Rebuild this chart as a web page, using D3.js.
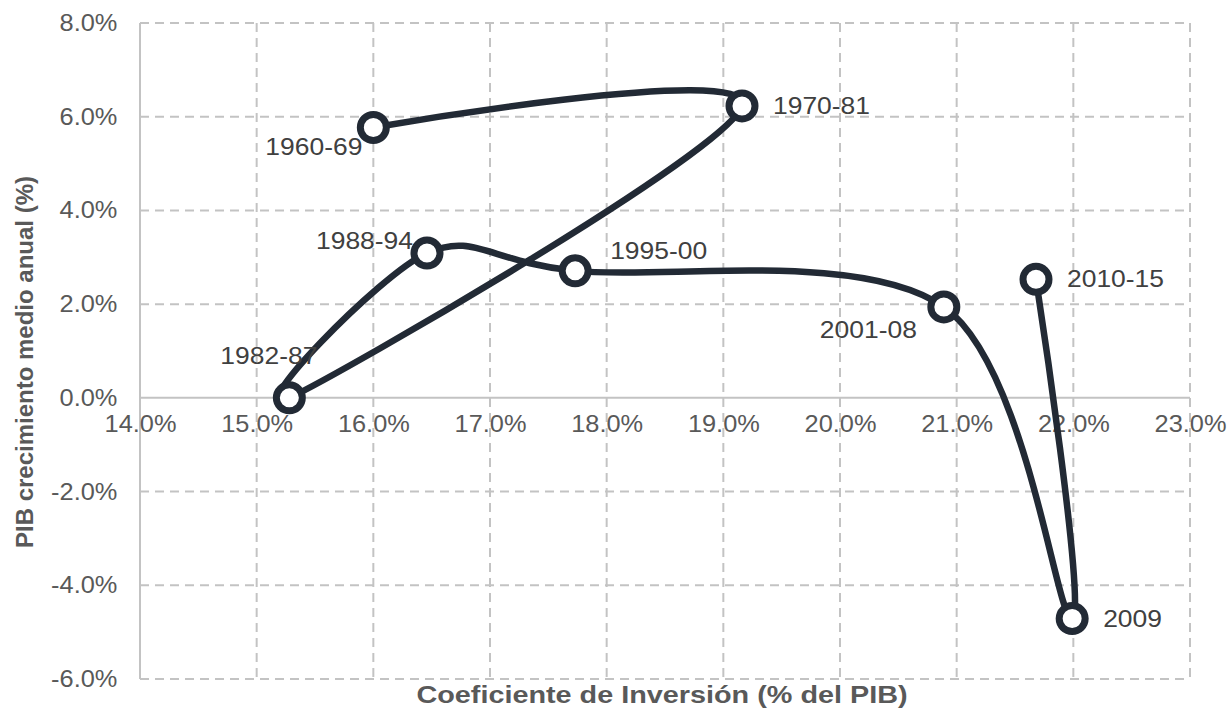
<!DOCTYPE html>
<html>
<head>
<meta charset="utf-8">
<script src="https://cdn.jsdelivr.net/npm/d3@7"></script>
<style>
  body { margin: 0; background: #fff; }
  svg { display: block; font-family: "Liberation Sans", Arial, sans-serif; }
</style>
</head>
<body>
<div id="chart"></div>
<script>
// periods and their values
var periods = ["1960-69", "1970-81", "1982-87", "1988-94", "1995-00", "2001-08", "2009", "2010-15"]
var inversion = [16.0, 19.16, 15.28, 16.46, 17.73, 20.89, 21.99, 21.68]   // % del PIB
var crecimiento = [5.77, 6.23, 0.0, 3.09, 2.71, 1.94, -4.71, 2.53]        // % anual

var xTicks = [14, 15, 16, 17, 18, 19, 20, 21, 22, 23]
var yTicks = [-6, -4, -2, 0, 2, 4, 6, 8]

var width = 1227, height = 710
var margin = {top: 23, right: 37, bottom: 31, left: 140}

var svg = d3.select("#chart").append("svg")
            .attr("width", width)
            .attr("height", height)

var x = d3.scaleLinear().domain([14, 23]).range([margin.left, width - margin.right])
var y = d3.scaleLinear().domain([-6, 8]).range([height - margin.bottom, margin.top])

var fmt = function(d){ return d.toFixed(1) + "%" }
var gridColor = "#c3c3c3"
var lineColor = "#222a35"

//dashed grid
var grid = svg.append("g")
grid.selectAll(".vgrid").data(xTicks.filter(function(d){ return d != 14 }))
    .enter().append("line")
    .attr("x1", function(d){ return x(d) })
    .attr("x2", function(d){ return x(d) })
    .attr("y1", y(8))
    .attr("y2", y(-6))
    .style("stroke", gridColor)
    .style("stroke-width", 2)
    .style("stroke-dasharray", "9,6")

grid.selectAll(".hgrid").data(yTicks.filter(function(d){ return d != 0 }))
    .enter().append("line")
    .attr("x1", x(14))
    .attr("x2", x(23))
    .attr("y1", function(d){ return y(d) })
    .attr("y2", function(d){ return y(d) })
    .style("stroke", gridColor)
    .style("stroke-width", 2)
    .style("stroke-dasharray", "9,6")

//solid axis lines
svg.append("line")
   .attr("x1", x(14)).attr("x2", x(14))
   .attr("y1", y(8)).attr("y2", y(-6))
   .style("stroke", gridColor).style("stroke-width", 2)
svg.append("line")
   .attr("x1", x(14)).attr("x2", x(23))
   .attr("y1", y(0)).attr("y2", y(0))
   .style("stroke", gridColor).style("stroke-width", 2)

//tick labels
var yAxis = svg.append("g")
               .attr("transform", `translate(${x(14)},0)`)
               .call(d3.axisLeft(y).tickValues(yTicks).tickFormat(fmt).tickSize(0).tickPadding(21))
var xAxis = svg.append("g")
               .attr("transform", `translate(0,${y(0)})`)
               .call(d3.axisBottom(x).tickValues(xTicks).tickFormat(fmt).tickSize(0).tickPadding(17))

svg.selectAll(".domain").remove()
svg.selectAll(".tick text")
   .style("font-size", "23.5px")
   .style("fill", "#595959")
   .style("font-family", "'Liberation Sans', Arial, sans-serif")
   .attr("transform", "scale(1.08,1)")

//axis titles
svg.append("text")
   .text("Coeficiente de Inversión (% del PIB)")
   .attr("transform", `translate(${662},${703}) scale(1.2,1)`)
   .attr("text-anchor", "middle")
   .style("font-size", "24px")
   .style("font-weight", "bold")
   .style("fill", "#595959")

svg.append("text")
   .text("PIB crecimiento medio anual (%)")
   .attr("transform", `translate(${33},${362}) rotate(-90)`)
   .attr("text-anchor", "middle")
   .style("font-size", "24px")
   .style("font-weight", "bold")
   .style("fill", "#595959")

//the smoothed path
var points = periods.map(function(p, i){ return [inversion[i], crecimiento[i]] })

var line = d3.line()
             .x(function(d){ return x(d[0]) })
             .y(function(d){ return y(d[1]) })
             .curve(d3.curveCardinal.tension(0))

svg.append("path")
   .datum(points)
   .attr("d", line)
   .style("fill", "none")
   .style("stroke", lineColor)
   .style("stroke-width", 6.5)
   .style("stroke-linejoin", "round")

svg.append("g").selectAll("circle").data(points)
   .enter().append("circle")
   .attr("cx", function(d){ return x(d[0]) })
   .attr("cy", function(d){ return y(d[1]) })
   .attr("r", 13)
   .style("fill", "white")
   .style("stroke", lineColor)
   .style("stroke-width", 7)

//label placement next to each marker
var place = {
  "1960-69": {anchor: "end",   dx: -11, dy: 28},
  "1970-81": {anchor: "start", dx: 31,  dy: 8},
  "1982-87": {anchor: "end",   dx: 28,  dy: -34},
  "1988-94": {anchor: "end",   dx: -14, dy: -4},
  "1995-00": {anchor: "start", dx: 35,  dy: -12},
  "2001-08": {anchor: "end",   dx: -27, dy: 31},
  "2009":    {anchor: "start", dx: 31,  dy: 8},
  "2010-15": {anchor: "start", dx: 31,  dy: 8}
}

svg.append("g").selectAll("text").data(periods)
   .enter().append("text")
   .text(function(d){ return d })
   .attr("transform", function(d, i){
      var px = x(inversion[i]) + place[d].dx
      var py = y(crecimiento[i]) + place[d].dy
      return `translate(${px},${py}) scale(1.15,1)`
   })
   .attr("text-anchor", function(d){ return place[d].anchor })
   .style("font-size", "23px")
   .style("fill", "#404040")
</script>
</body>
</html>
